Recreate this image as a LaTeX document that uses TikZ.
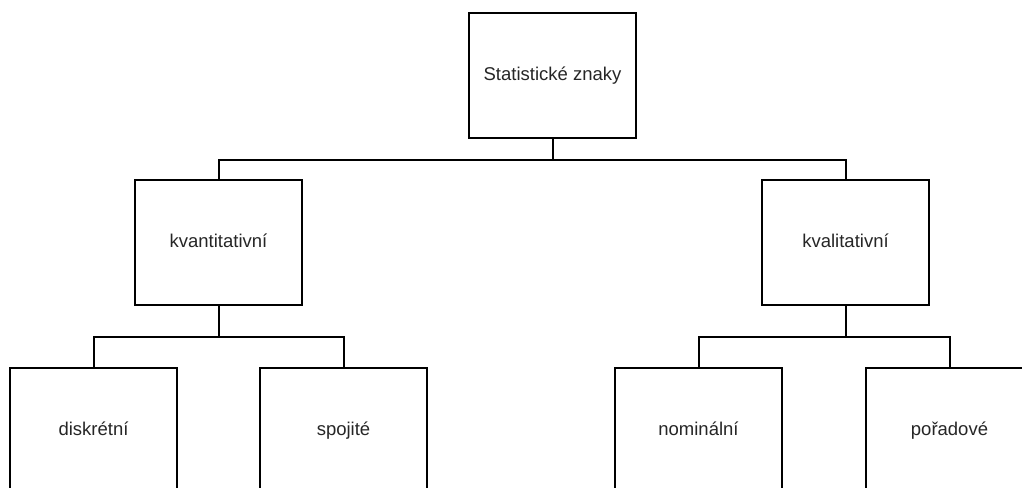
\documentclass[tikz,border=0pt]{standalone}
\usepackage{fontspec}
\setmainfont{Liberation Sans}
\begin{document}
\begin{tikzpicture}[x=1pt,y=-1pt,
  box/.style={draw=black,line width=2pt,fill=white,rectangle,
    minimum width=167pt,minimum height=125pt,inner sep=0pt,
    text height=13.5pt,text depth=4pt,
    font=\fontsize{18.5}{22}\selectfont,text=black!85},
  link/.style={draw=black,line width=2pt}]
\useasboundingbox (0,0) rectangle (1022,487);
\clip (0,0) rectangle (1022,487);
% root
\node[box] (root) at (552.5,75.5) {Statistické znaky};
% second level
\node[box] (kvant) at (218.5,242.5) {kvantitativní};
\node[box] (kval) at (845.5,242.5) {kvalitativní};
% leaves
\node[box] (disk) at (93.5,430.5) {diskrétní};
\node[box] (spoj) at (343.5,430.5) {spojité};
\node[box] (nomi) at (698.5,430.5) {nominální};
\node[box] (pora) at (949.5,430.5) {pořadové};
% connectors
\draw[link] (root.south) -- ++(0,20.5) -| (kvant.north);
\draw[link] (root.south) -- ++(0,20.5) -| (kval.north);
\draw[link] (kvant.south) -- ++(0,31) -| (disk.north);
\draw[link] (kvant.south) -- ++(0,31) -| (spoj.north);
\draw[link] (kval.south) -- ++(0,31) -| (nomi.north);
\draw[link] (kval.south) -- ++(0,31) -| (pora.north);
\end{tikzpicture}
\end{document}
